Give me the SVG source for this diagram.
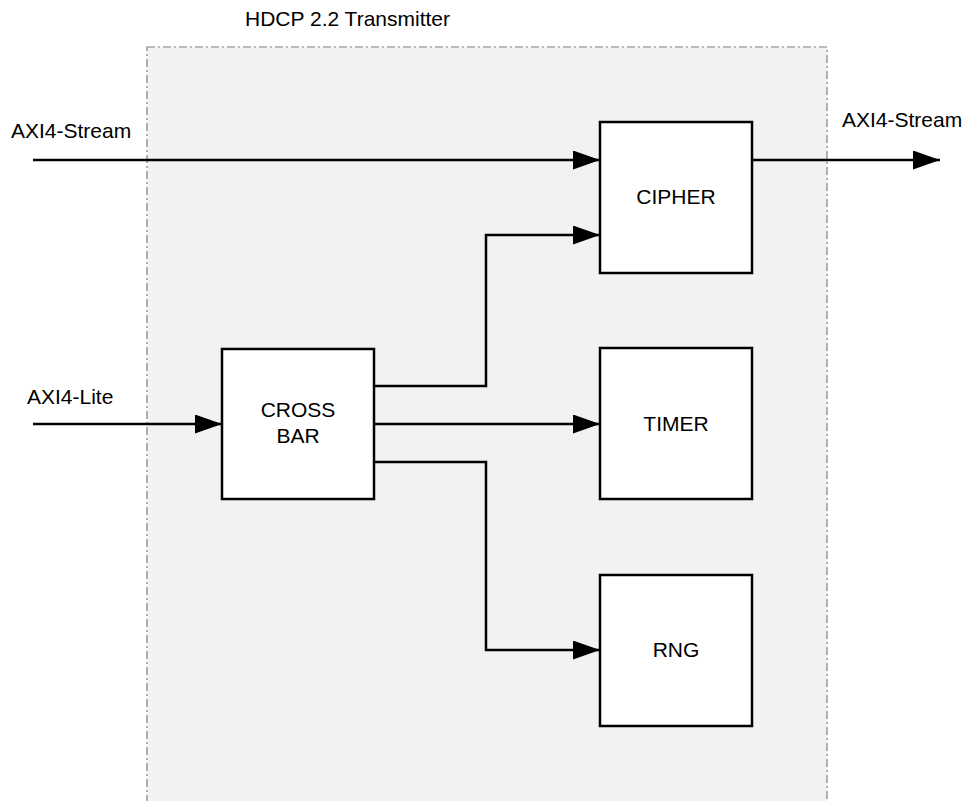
<svg xmlns="http://www.w3.org/2000/svg" width="965" height="801" viewBox="0 0 965 801">
<defs>
<style>
.lbl{font-family:"Liberation Sans",Arial,sans-serif;font-size:21px;fill:#000}
.box{fill:#fff;stroke:#000;stroke-width:2.5}
.wire{fill:none;stroke:#000;stroke-width:2.5}
.mid{text-anchor:middle}
</style>
<marker id="arr" markerUnits="userSpaceOnUse" markerWidth="28" markerHeight="20" refX="27" refY="9.5" orient="auto">
<path d="M0,0 L27,9.5 L0,19 Z" fill="#000"/>
</marker>
</defs>
<rect width="965" height="801" fill="#fff"/>
<g id="transmitter">
<rect x="147" y="47" width="680" height="770" fill="#f2f2f2" stroke="#7f7f7f" stroke-width="1.2" stroke-dasharray="8,3,2,3"/>
<text class="lbl" x="245" y="26">HDCP 2.2 Transmitter</text>
</g>
<g id="labels">
<text class="lbl" x="11" y="138">AXI4-Stream</text>
<text class="lbl" x="842" y="127">AXI4-Stream</text>
<text class="lbl" x="27" y="404">AXI4-Lite</text>
</g>
<g id="connectors">
<path class="wire" d="M33,160 H600" marker-end="url(#arr)"/>
<path class="wire" d="M752,160 H940" marker-end="url(#arr)"/>
<path class="wire" d="M33,424 H222" marker-end="url(#arr)"/>
<path class="wire" d="M374,386 H486 V235 H600" marker-end="url(#arr)"/>
<path class="wire" d="M374,424 H600" marker-end="url(#arr)"/>
<path class="wire" d="M374,462 H486 V650 H600" marker-end="url(#arr)"/>
</g>
<g id="cipher">
<rect class="box" x="600" y="122" width="152" height="151"/>
<text class="lbl mid" x="676" y="204">CIPHER</text>
</g>
<g id="timer">
<rect class="box" x="600" y="348" width="152" height="151"/>
<text class="lbl mid" x="676" y="431">TIMER</text>
</g>
<g id="rng">
<rect class="box" x="600" y="575" width="152" height="151"/>
<text class="lbl mid" x="676" y="657">RNG</text>
</g>
<g id="crossbar">
<rect class="box" x="222" y="349" width="152" height="150"/>
<text class="lbl mid" x="298" y="417">CROSS</text>
<text class="lbl mid" x="298" y="443">BAR</text>
</g>
</svg>
